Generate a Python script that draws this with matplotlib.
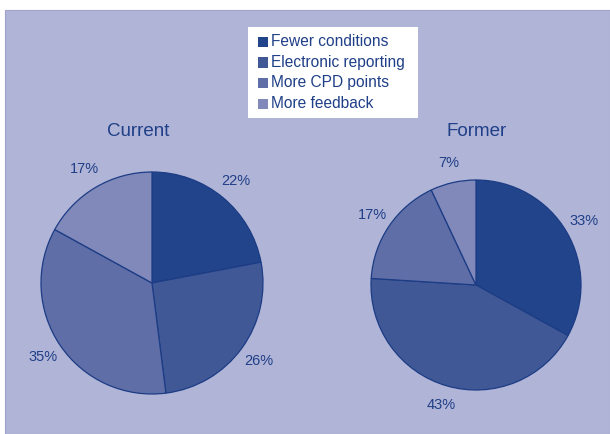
import matplotlib.pyplot as plt
from matplotlib.patches import Rectangle

plt.rcParams['font.family'] = ['Liberation Sans', 'DejaVu Sans']

categories = ['Fewer conditions', 'Electronic reporting', 'More CPD points', 'More feedback']
current = [22, 26, 35, 17]
former = [33, 43, 17, 7]

COLORS = ['#21448a', '#405896', '#5f6ea6', '#8089b9']
BG = '#b0b4d6'
TEXT = '#1f3f88'
W, H = 610, 434

title_dx = {'Current': -14, 'Former': 1}


def add_pie(fig, values, cx, cy, r, title):
    # axes box in pixels, limits -1.5..1.5 so radius 1 -> r px
    s = 1.5 * r
    ax = fig.add_axes([(cx - s) / W, 1 - (cy + s) / H, 2 * s / W, 2 * s / H])
    wedges, texts = ax.pie(values, colors=COLORS, startangle=90, counterclock=False,
                           labels=['%d%%' % v for v in values], labeldistance=1.19,
                           wedgeprops=dict(edgecolor='#1c3c85', linewidth=0.9),
                           textprops=dict(color=TEXT, fontsize=10.5))
    for t in texts:
        t.set_ha('center')
        t.set_va('center')
    ax.set_xlim(-1.5, 1.5)
    ax.set_ylim(-1.5, 1.5)
    ax.set_aspect('equal')
    ax.axis('off')
    fig.text(cx / W + (title_dx[title] / W), 1 - 131 / H, title, ha='center', va='center',
             color=TEXT, fontsize=13.5)


fig = plt.figure(figsize=(6.1, 4.34), dpi=100)
fig.patches.append(Rectangle((5 / W, 0), 1 - 5 / W, 1 - 10 / H, transform=fig.transFigure,
                             facecolor=BG, edgecolor='#9ea2c8', linewidth=0.8, zorder=-5))

add_pie(fig, current, 152, 283, 111, 'Current')
add_pie(fig, former, 476, 285, 105, 'Former')

# legend box
fig.patches.append(Rectangle((248 / W, 1 - 118 / H), 170 / W, 91 / H, transform=fig.transFigure,
                             facecolor='white', edgecolor='none', zorder=1))
for i, name in enumerate(categories):
    y = 42 + i * 20.5
    fig.patches.append(Rectangle((258 / W, 1 - (y + 5) / H), 10 / W, 10 / H,
                                 transform=fig.transFigure, facecolor=COLORS[i],
                                 edgecolor='none', zorder=2))
    fig.text(271 / W, 1 - y / H, name, ha='left', va='center', color=TEXT,
             fontsize=11.2, zorder=3)

fig.savefig('out.png', dpi=100)
